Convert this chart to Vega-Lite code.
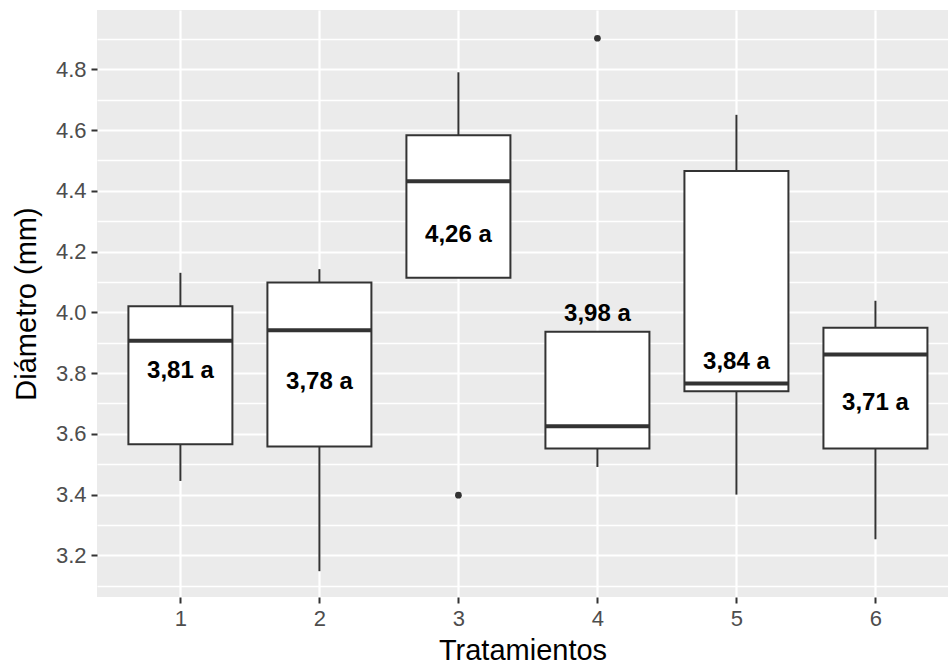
{
  "$schema": "https://vega.github.io/schema/vega-lite/v6.json",
  "width": 851,
  "height": 587,
  "autosize": {"type": "none"},
  "padding": {"left": 97, "top": 10, "right": 0, "bottom": 69},
  "background": "white",
  "config": {
    "view": {"fill": "#EBEBEB", "stroke": null},
    "font": "Liberation Sans",
    "axis": {
      "domain": false,
      "tickColor": "#333333",
      "tickSize": 6,
      "tickWidth": 2,
      "labelColor": "#4D4D4D",
      "labelFont": "Liberation Sans",
      "labelFontSize": 22,
      "titleFont": "Liberation Sans",
      "titleFontSize": 29,
      "titleFontWeight": "normal",
      "titleColor": "black",
      "gridColor": "white",
      "gridWidth": 2.2
    }
  },
  "datasets": {
    "cajas": [
      {"tratamiento": 1, "minimo": 3.445, "q1": 3.566, "mediana": 3.906, "q3": 4.020, "maximo": 4.130},
      {"tratamiento": 2, "minimo": 3.148, "q1": 3.558, "mediana": 3.941, "q3": 4.098, "maximo": 4.142},
      {"tratamiento": 3, "minimo": 4.114, "q1": 4.114, "mediana": 4.431, "q3": 4.583, "maximo": 4.790},
      {"tratamiento": 4, "minimo": 3.491, "q1": 3.552, "mediana": 3.625, "q3": 3.936, "maximo": 3.936},
      {"tratamiento": 5, "minimo": 3.400, "q1": 3.740, "mediana": 3.766, "q3": 4.465, "maximo": 4.650},
      {"tratamiento": 6, "minimo": 3.253, "q1": 3.552, "mediana": 3.861, "q3": 3.949, "maximo": 4.038}
    ],
    "atipicos": [
      {"tratamiento": 3, "diametro": 3.398},
      {"tratamiento": 4, "diametro": 4.902}
    ],
    "etiquetas": [
      {"tratamiento": 1, "posicion": 3.806, "texto": "3,81 a"},
      {"tratamiento": 2, "posicion": 3.771, "texto": "3,78 a"},
      {"tratamiento": 3, "posicion": 4.255, "texto": "4,26 a"},
      {"tratamiento": 4, "posicion": 3.995, "texto": "3,98 a"},
      {"tratamiento": 5, "posicion": 3.835, "texto": "3,84 a"},
      {"tratamiento": 6, "posicion": 3.700, "texto": "3,71 a"}
    ]
  },
  "resolve": {"axis": {"y": "independent"}},
  "layer": [
    {
      "data": {"name": "cajas"},
      "mark": {"type": "rule", "color": "#333333", "strokeWidth": 2},
      "encoding": {
        "x": {
          "field": "tratamiento", "type": "quantitative", "title": "Tratamientos",
          "scale": {"domain": [0.4, 6.522], "nice": false, "zero": false, "padding": 0},
          "axis": {"values": [1, 2, 3, 4, 5, 6], "format": "d", "grid": true, "labelPadding": 5, "titlePadding": 7}
        },
        "y": {
          "field": "minimo", "type": "quantitative",
          "scale": {"domain": [3.063, 4.995], "nice": false, "zero": false},
          "axis": {"orient": "left", "title": null, "labels": false, "ticks": false, "domain": false, "grid": true, "gridWidth": 1.4,
                   "values": [3.1, 3.3, 3.5, 3.7, 3.9, 4.1, 4.3, 4.5, 4.7, 4.9]}
        },
        "y2": {"field": "q1"}
      }
    },
    {
      "layer": [
        {
          "data": {"name": "cajas"},
          "mark": {"type": "rule", "color": "#333333", "strokeWidth": 2},
          "encoding": {
            "x": {
              "field": "tratamiento", "type": "quantitative", "title": "Tratamientos",
              "scale": {"domain": [0.4, 6.522], "nice": false, "zero": false, "padding": 0},
              "axis": {"values": [1, 2, 3, 4, 5, 6], "format": "d", "grid": true, "labelPadding": 5, "titlePadding": 7}
            },
            "y": {
              "field": "q3", "type": "quantitative", "title": "Diámetro (mm)",
              "scale": {"domain": [3.063, 4.995], "nice": false, "zero": false},
              "axis": {"orient": "left", "grid": true, "values": [3.2, 3.4, 3.6, 3.8, 4.0, 4.2, 4.4, 4.6, 4.8], "format": ".1f", "labelPadding": 5, "titlePadding": 14}
            },
            "y2": {"field": "maximo"}
          }
        },
        {
          "data": {"name": "cajas"},
          "mark": {"type": "bar", "size": 104, "fill": "white", "stroke": "#333333", "strokeWidth": 2},
          "encoding": {
            "x": {"field": "tratamiento", "type": "quantitative", "title": "Tratamientos"},
            "y": {"field": "q1", "type": "quantitative", "title": "Diámetro (mm)"},
            "y2": {"field": "q3"}
          }
        },
        {
          "data": {"name": "cajas"},
          "mark": {"type": "tick", "orient": "horizontal", "size": 104, "thickness": 4, "color": "#333333", "opacity": 1},
          "encoding": {
            "x": {"field": "tratamiento", "type": "quantitative", "title": "Tratamientos"},
            "y": {"field": "mediana", "type": "quantitative", "title": "Diámetro (mm)"}
          }
        },
        {
          "data": {"name": "atipicos"},
          "mark": {"type": "point", "filled": true, "size": 45, "color": "#333333", "opacity": 1},
          "encoding": {
            "x": {"field": "tratamiento", "type": "quantitative", "title": "Tratamientos"},
            "y": {"field": "diametro", "type": "quantitative", "title": "Diámetro (mm)"}
          }
        },
        {
          "data": {"name": "etiquetas"},
          "mark": {"type": "text", "font": "Liberation Sans", "fontWeight": "bold", "fontSize": 24, "color": "black", "align": "center", "baseline": "middle"},
          "encoding": {
            "x": {"field": "tratamiento", "type": "quantitative", "title": "Tratamientos"},
            "y": {"field": "posicion", "type": "quantitative", "title": "Diámetro (mm)"},
            "text": {"field": "texto"}
          }
        }
      ]
    }
  ]
}
